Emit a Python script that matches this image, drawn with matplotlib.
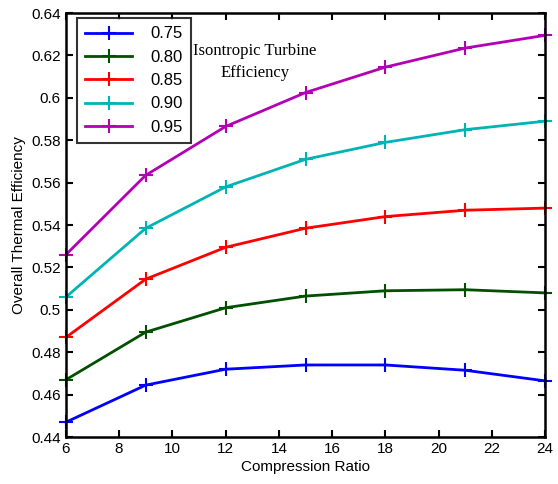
import matplotlib
matplotlib.use("Agg")
import matplotlib.pyplot as plt

# compression ratio vs overall thermal efficiency
ratio = [6, 9, 12, 15, 18, 21, 24]
eff_075 = [0.447, 0.4645, 0.472, 0.474, 0.474, 0.4715, 0.4665]
eff_080 = [0.467, 0.4895, 0.501, 0.5065, 0.509, 0.5095, 0.508]
eff_085 = [0.487, 0.5145, 0.5295, 0.5385, 0.544, 0.547, 0.548]
eff_090 = [0.506, 0.5385, 0.558, 0.571, 0.579, 0.585, 0.589]
eff_095 = [0.526, 0.5635, 0.5865, 0.6025, 0.6145, 0.6235, 0.6295]
labels = ["0.75", "0.80", "0.85", "0.90", "0.95"]
yticks = [0.44, 0.46, 0.48, 0.5, 0.52, 0.54, 0.56, 0.58, 0.6, 0.62, 0.64]
ytick_labels = ["0.44", "0.46", "0.48", "0.5", "0.52", "0.54", "0.56", "0.58", "0.6", "0.62", "0.64"]

colors = ["#0000ff", "#005000", "#ff0000", "#00b4b4", "#b400b4"]

plt.rcParams["font.family"] = "Liberation Sans"

fig = plt.figure(figsize=(5.58, 4.84), dpi=100)
ax = fig.add_axes([0.118, 0.097, 0.859, 0.876])

for ys, lab, c in zip([eff_075, eff_080, eff_085, eff_090, eff_095], labels, colors):
    ax.plot(ratio, ys, color=c, lw=2, marker="+", ms=10, mew=1.5, label=lab, clip_on=False)

ax.set_xlim(6, 24)
ax.set_ylim(0.44, 0.64)
ax.set_xticks(range(6, 25, 2))
ax.set_yticks(yticks)
ax.set_yticklabels(ytick_labels)
ax.tick_params(direction="in", top=True, right=True, length=5, width=1.5, labelsize=11)
for s in ax.spines.values():
    s.set_linewidth(1.8)

ax.set_xlabel("Compression Ratio", fontsize=11, labelpad=3)
ax.set_ylabel("Overall Thermal Efficiency", fontsize=11, labelpad=4)

leg = ax.legend(loc="upper left", bbox_to_anchor=(0.023, 0.988), fontsize=12, handlelength=2.8,
                handletextpad=1.1, borderpad=0.5, labelspacing=0.5, fancybox=False,
                edgecolor="black", borderaxespad=0)
leg.get_frame().set_linewidth(1.5)

ax.text(0.395, 0.884, "Isontropic Turbine\nEfficiency", transform=ax.transAxes, ha="center", va="center",
        family="Liberation Serif", fontsize=12, linespacing=1.5)

fig.savefig("out.png", dpi=100)
